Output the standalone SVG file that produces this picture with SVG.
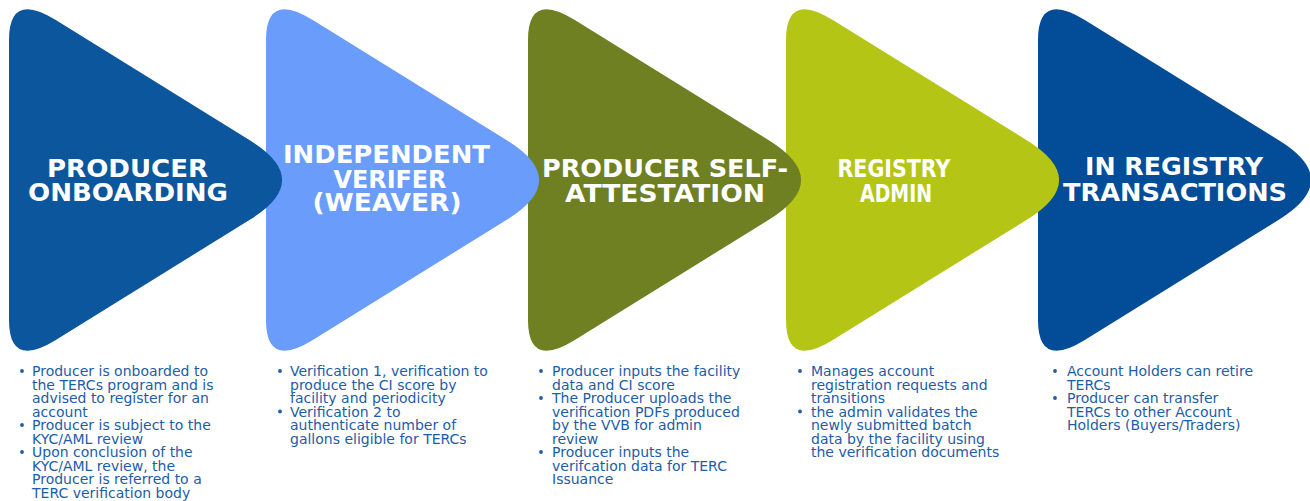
<svg xmlns="http://www.w3.org/2000/svg" width="1310" height="501" viewBox="0 0 1310 501">
<defs>
<path id="tri" d="M0,40 Q0,-9 46.8,20 L241.2,140.5 Q305,180 241.2,219.5 L46.8,340 Q0,369 0,320 Z"/>
</defs>
<style>
.t{font-family:"DejaVu Sans","Liberation Sans",sans-serif;font-weight:bold;font-size:24px;fill:#ffffff;text-anchor:middle}
.b{font-family:"DejaVu Sans","Liberation Sans",sans-serif;font-size:14px;fill:#1d5ca6}
.d{fill:#1d5ca6}
</style>
<rect width="1310" height="501" fill="#ffffff"/>

<g id="n5">
<use href="#tri" x="1038" y="0" fill="#034c97"/>
<text class="t" x="1174" y="175" textLength="178" lengthAdjust="spacingAndGlyphs">IN REGISTRY</text>
<text class="t" x="1175" y="201" textLength="224" lengthAdjust="spacingAndGlyphs">TRANSACTIONS</text>
<circle class="d" cx="1055" cy="371" r="1.9"/>
<circle class="d" cx="1055" cy="398" r="1.9"/>
<text class="b" x="1067" y="376">Account Holders can retire</text>
<text class="b" x="1067" y="389.5">TERCs</text>
<text class="b" x="1067" y="403">Producer can transfer</text>
<text class="b" x="1067" y="416.5">TERCs to other Account</text>
<text class="b" x="1067" y="430">Holders (Buyers/Traders)</text>
</g>

<g id="n4">
<use href="#tri" x="786" y="0" fill="#b5c516"/>
<text class="t" x="894" y="177" textLength="113" lengthAdjust="spacingAndGlyphs">REGISTRY</text>
<text class="t" x="896" y="202" textLength="72" lengthAdjust="spacingAndGlyphs">ADMIN</text>
<circle class="d" cx="800" cy="371" r="1.9"/>
<circle class="d" cx="800" cy="411.5" r="1.9"/>
<text class="b" x="811" y="376">Manages account</text>
<text class="b" x="811" y="389.5">registration requests and</text>
<text class="b" x="811" y="403">transitions</text>
<text class="b" x="811" y="416.5">the admin validates the</text>
<text class="b" x="811" y="430">newly submitted batch</text>
<text class="b" x="811" y="443.5">data by the facility using</text>
<text class="b" x="811" y="457">the verification documents</text>
</g>

<g id="n3">
<use href="#tri" x="528" y="0" fill="#6f8022"/>
<text class="t" x="665" y="177" textLength="246" lengthAdjust="spacingAndGlyphs">PRODUCER SELF-</text>
<text class="t" x="665" y="202" textLength="200" lengthAdjust="spacingAndGlyphs">ATTESTATION</text>
<circle class="d" cx="541" cy="371" r="1.9"/>
<circle class="d" cx="541" cy="398" r="1.9"/>
<circle class="d" cx="541" cy="452" r="1.9"/>
<text class="b" x="552" y="376">Producer inputs the facility</text>
<text class="b" x="552" y="389.5">data and CI score</text>
<text class="b" x="552" y="403">The Producer uploads the</text>
<text class="b" x="552" y="416.5">verification PDFs produced</text>
<text class="b" x="552" y="430">by the VVB for admin</text>
<text class="b" x="552" y="443.5">review</text>
<text class="b" x="552" y="457">Producer inputs the</text>
<text class="b" x="552" y="470.5">verifcation data for TERC</text>
<text class="b" x="552" y="484">Issuance</text>
</g>

<g id="n2">
<use href="#tri" x="266" y="0" fill="#6a9cfc"/>
<text class="t" x="386.5" y="163" textLength="207" lengthAdjust="spacingAndGlyphs">INDEPENDENT</text>
<text class="t" x="390" y="188" textLength="113" lengthAdjust="spacingAndGlyphs">VERIFER</text>
<text class="t" x="387" y="211" textLength="149" lengthAdjust="spacingAndGlyphs">(WEAVER)</text>
<circle class="d" cx="280" cy="371" r="1.9"/>
<circle class="d" cx="280" cy="411.5" r="1.9"/>
<text class="b" x="290" y="376">Verification 1, verification to</text>
<text class="b" x="290" y="389.5">produce the CI score by</text>
<text class="b" x="290" y="403">facility and periodicity</text>
<text class="b" x="290" y="416.5">Verification 2 to</text>
<text class="b" x="290" y="430">authenticate number of</text>
<text class="b" x="290" y="443.5">gallons eligible for TERCs</text>
</g>

<g id="n1">
<use href="#tri" x="9" y="0" fill="#0b569d"/>
<text class="t" x="127.5" y="177" textLength="161" lengthAdjust="spacingAndGlyphs">PRODUCER</text>
<text class="t" x="128" y="201" textLength="200" lengthAdjust="spacingAndGlyphs">ONBOARDING</text>
<circle class="d" cx="22" cy="371" r="1.9"/>
<circle class="d" cx="22" cy="425" r="1.9"/>
<circle class="d" cx="22" cy="452" r="1.9"/>
<text class="b" x="32" y="376">Producer is onboarded to</text>
<text class="b" x="32" y="389.5">the TERCs program and is</text>
<text class="b" x="32" y="403">advised to register for an</text>
<text class="b" x="32" y="416.5">account</text>
<text class="b" x="32" y="430">Producer is subject to the</text>
<text class="b" x="32" y="443.5">KYC/AML review</text>
<text class="b" x="32" y="457">Upon conclusion of the</text>
<text class="b" x="32" y="470.5">KYC/AML review, the</text>
<text class="b" x="32" y="484">Producer is referred to a</text>
<text class="b" x="32" y="497.5">TERC verification body</text>
</g>
</svg>
